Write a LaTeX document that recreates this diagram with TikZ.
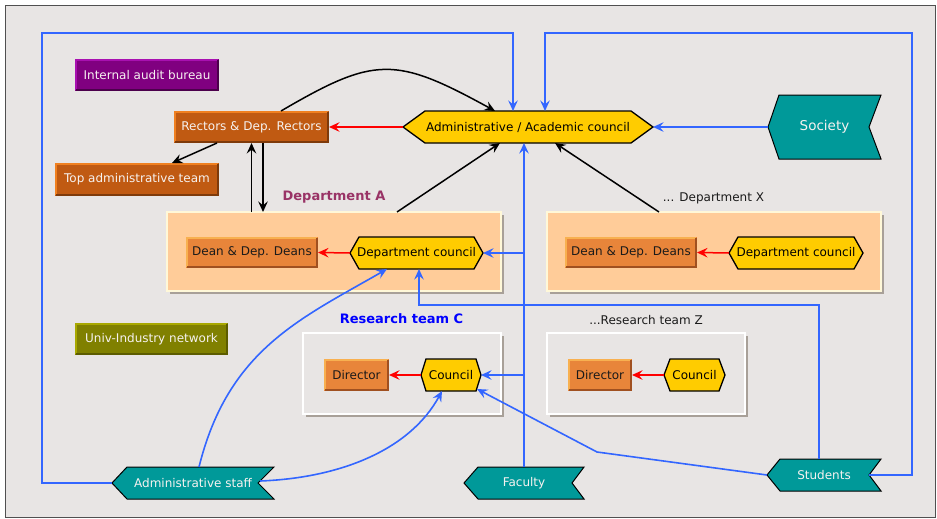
\documentclass[tikz,border=0pt]{standalone}
\usepackage{fontspec}
\setmainfont{DejaVu Sans}
\usetikzlibrary{arrows.meta,shadows}
\pgfdeclarelayer{bgA}
\pgfdeclarelayer{bgB}
\pgfsetlayers{bgA,bgB,main}
\definecolor{bgc}{HTML}{E8E5E4}
\definecolor{framec}{HTML}{505050}
\definecolor{purp}{HTML}{800080}
\definecolor{purpL}{HTML}{A810B0}
\definecolor{purpD}{HTML}{4C004C}
\definecolor{rust}{HTML}{C05A12}
\definecolor{rustL}{HTML}{F08020}
\definecolor{rustD}{HTML}{7E3A0A}
\definecolor{dean}{HTML}{E8853A}
\definecolor{deanL}{HTML}{F8B050}
\definecolor{deanD}{HTML}{A05020}
\definecolor{olive}{HTML}{808000}
\definecolor{oliveL}{HTML}{A8A800}
\definecolor{oliveD}{HTML}{5C5C00}
\definecolor{hexfill}{HTML}{FFCC00}
\definecolor{teal}{HTML}{009999}
\definecolor{deptfill}{HTML}{FFCC99}
\definecolor{deptedge}{HTML}{FFF8D8}
\definecolor{shgray}{HTML}{A8A098}
\definecolor{bluel}{HTML}{3366FF}
\definecolor{redl}{HTML}{FF0000}
\definecolor{plum}{HTML}{993366}
\definecolor{lighttext}{HTML}{F6F2F0}
\definecolor{darktext}{HTML}{1A1A1A}
\newcommand\bevel[3]{%
  \draw[#2, line width=2pt] ([xshift=1pt,yshift=1pt]#1.south west) -- ([xshift=1pt,yshift=-1pt]#1.north west) -- ([xshift=-1pt,yshift=-1pt]#1.north east);
  \draw[#3, line width=2pt] ([xshift=-1pt,yshift=-1pt]#1.north east) -- ([xshift=-1pt,yshift=1pt]#1.south east) -- ([xshift=1pt,yshift=1pt]#1.south west);}
\newcommand\hexa[2]{%
  \filldraw[fill=hexfill, draw=black, line width=1.3pt, line join=miter]
    ([xshift=#2]#1.north west) -- ([xshift=-#2]#1.north east) -- (#1.east) -- ([xshift=-#2]#1.south east) -- ([xshift=#2]#1.south west) -- (#1.west) -- cycle;}
\newcommand\flagshape[3]{%
  \filldraw[fill=teal, draw=black, line width=1pt, line join=miter]
    (#1.west) -- ([xshift=#2]#1.north west) -- (#1.north east) -- ([xshift=-#3]#1.east) -- (#1.south east) -- ([xshift=#2]#1.south west) -- cycle;}
\begin{document}
\begin{tikzpicture}[x=1pt,y=-1pt,
  lbl/.style={rectangle, inner sep=0pt, outer sep=0pt, font=\fontsize{12}{14}\selectfont},
  wbox/.style={lbl, text=lighttext, minimum height=32pt},
  dbox/.style={lbl, text=darktext, fill=dean, minimum height=32pt},
  hexnode/.style={lbl, text=black, minimum height=32pt},
  flagnode/.style={lbl, text=lighttext, minimum height=32pt},
  deptbox/.style={rectangle, inner sep=0pt, outer sep=0pt, fill=deptfill, draw=deptedge, line width=1.2pt,
    drop shadow={shadow xshift=3pt, shadow yshift=-3pt, fill=shgray, draw=none, opacity=1}},
  teambox/.style={rectangle, inner sep=0pt, outer sep=0pt, fill=bgc, draw=white, line width=1.5pt,
    drop shadow={shadow xshift=3pt, shadow yshift=-3pt, fill=shgray, draw=none, opacity=1}},
  tip/.style={-{Stealth[length=10.5pt,width=9.5pt,inset=3.8pt]}},
  bl/.style={draw=bluel, line width=1.6pt, tip},
  bk/.style={draw=black, line width=1.5pt, tip},
  rd/.style={draw=redl, line width=1.5pt, tip},
  ttl/.style={inner sep=0pt, font=\fontsize{13}{15}\selectfont\bfseries},
  sub/.style={inner sep=0pt, font=\fontsize{12}{14}\selectfont, text=darktext}]
\useasboundingbox (0,0) rectangle (937,519);
\begin{pgfonlayer}{bgA}
  \fill[white] (0,0) rectangle (937,519);
  \filldraw[fill=bgc, draw=framec, line width=1pt] (5,6) rectangle (935,517);
\end{pgfonlayer}
% containers
\begin{pgfonlayer}{bgB}
  \node[deptbox, minimum width=334pt, minimum height=79pt] (deptA) at (334,251.5) {};
  \node[deptbox, minimum width=334pt, minimum height=79pt] (deptX) at (714,251.5) {};
  \node[teambox, minimum width=198pt, minimum height=81pt] (teamC) at (402,373.5) {};
  \node[teambox, minimum width=198pt, minimum height=81pt] (teamZ) at (646,373.5) {};
\end{pgfonlayer}
% titles
\node[ttl, text=plum] (tA) at (334,197) {Department A};
\node[sub] (tX) at (713.5,198) {... Department X};
\node[ttl, text=blue] (tC) at (401.5,319) {Research team C};
\node[sub] (tZ) at (646,320) {...Research team Z};
% bevel boxes
\node[wbox, fill=purp, minimum width=144pt] (aud) at (147,75) {Internal audit bureau};
\bevel{aud}{purpL}{purpD}
\node[wbox, fill=rust, minimum width=155pt] (rect) at (251.5,127) {Rectors \& Dep. Rectors};
\bevel{rect}{rustL}{rustD}
\node[wbox, fill=rust, minimum width=164pt, minimum height=33pt] (top) at (137,179.5) {Top administrative team};
\bevel{top}{rustL}{rustD}
\node[wbox, fill=olive, minimum width=153pt] (uin) at (151.5,339) {Univ-Industry network};
\bevel{uin}{oliveL}{oliveD}
\node[dbox, minimum width=132pt, minimum height=31pt] (deanA) at (252,252.5) {Dean \& Dep. Deans};
\bevel{deanA}{deanL}{deanD}
\node[dbox, minimum width=132pt, minimum height=31pt] (deanX) at (631,252.5) {Dean \& Dep. Deans};
\bevel{deanX}{deanL}{deanD}
\node[dbox, minimum width=65pt] (dirC) at (356.5,375) {Director};
\bevel{dirC}{deanL}{deanD}
\node[dbox, minimum width=64pt] (dirZ) at (600,375) {Director};
\bevel{dirZ}{deanL}{deanD}
% hexagon nodes
\node[hexnode, minimum width=250pt] (ac) at (528,127) {Administrative / Academic council};
\node[hexnode, minimum width=133pt] (dcA) at (416.5,253) {Department council};
\node[hexnode, minimum width=134pt] (dcX) at (796,253) {Department council};
\node[hexnode, minimum width=60pt] (cC) at (451,375) {Council};
\node[hexnode, minimum width=61pt] (cZ) at (694.5,375) {Council};
% flag nodes
\node[flagnode, minimum width=113pt, minimum height=64pt, font=\fontsize{13.5}{16}\selectfont] (soc) at (824.5,127) {Society};
\node[flagnode, minimum width=162pt] (staff) at (193,483) {Administrative staff};
\node[flagnode, minimum width=120pt] (fac) at (524,483) {Faculty};
\node[flagnode, minimum width=114pt] (stu) at (824,475) {Students};
\begin{pgfonlayer}{bgB}
  \hexa{ac}{22pt}
  \hexa{dcA}{9pt}
  \hexa{dcX}{9pt}
  \hexa{cC}{5pt}
  \hexa{cZ}{6pt}
  \flagshape{soc}{11pt}{12pt}
  \flagshape{staff}{15pt}{16pt}
  \flagshape{fac}{14pt}{12pt}
  \flagshape{stu}{13pt}{12pt}
\end{pgfonlayer}
% helper coordinates
\coordinate (tl) at (42,33);
\coordinate (tr) at (912,33);
\coordinate (sj) at (419,305);
\coordinate (sk) at (597,452);
% blue connectors
\draw[bl] (staff.west) -| (tl) -| ([xshift=-15pt]ac.north);
\draw[bl] ([xshift=-12pt]stu.east) -| (tr) -| ([xshift=17pt]ac.north);
\draw[bl] (soc.west) -- (ac.east);
\draw[bl] (fac.north) -- (fac.north |- ac.south);
\draw[bl] (fac.north |- dcA.east) -- (dcA.east);
\draw[bl] (fac.north |- cC.east) -- (cC.east);
\draw[bl] ([xshift=-5pt]stu.north) |- (sj) -- ([xshift=2.5pt]dcA.south);
\draw[bl] (stu.west) -- (sk) -- ([xshift=-4pt,yshift=2pt]cC.south east);
\draw[bl] ([xshift=6pt]staff.north) .. controls (228,350) and (300,319) .. ([xshift=-29.5pt]dcA.south);
\draw[bl] ([xshift=-14pt,yshift=2pt]staff.east) .. controls (340,478) and (410,450) .. ([xshift=-9pt]cC.south);
% black connectors
\draw[bk] ([xshift=29.5pt]rect.north) .. controls (375,56) and (395,56) .. ([xshift=-33pt]ac.north);
\draw[bk] ([xshift=-34.5pt]rect.south) -- ([xshift=35pt]top.north);
\draw[bk] (rect.south |- deptA.north) -- (rect.south);
\draw[bk] ([xshift=11.5pt]rect.south) -- ([xshift=11.5pt]rect.south |- deptA.north);
\draw[bk] ([xshift=63pt]deptA.north) -- ([xshift=-28pt]ac.south);
\draw[bk] ([xshift=-55pt]deptX.north) -- ([xshift=27pt]ac.south);
% red connectors
\draw[rd] (ac.west) -- (rect.east);
\draw[rd] (dcA.west) -- (deanA.east);
\draw[rd] (dcX.west) -- (deanX.east);
\draw[rd] (cC.west) -- (dirC.east);
\draw[rd] (cZ.west) -- (dirZ.east);
\end{tikzpicture}
\end{document}
